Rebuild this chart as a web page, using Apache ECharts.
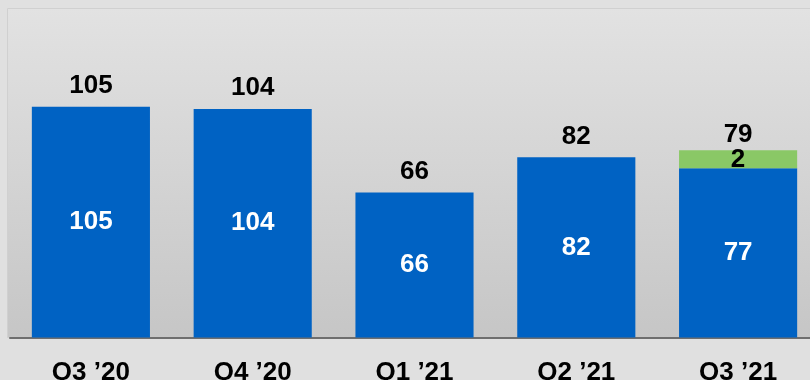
<!DOCTYPE html>
<html><head><meta charset="utf-8">
<script src="https://cdn.jsdelivr.net/npm/echarts@6/dist/echarts.min.js"></script>
<style>html,body{margin:0;padding:0;background:#e0e0e0;}#c{width:810px;height:380px;}</style>
</head><body><div id="c"></div>
<script>
const categories = ["Q3 \u201920", "Q4 \u201920", "Q1 \u201921", "Q2 \u201921", "Q3 \u201921"];
const baseValues = [105, 104, 66, 82, 77];
const addedValues = ['-', '-', '-', '-', 2];
const totals = [105, 104, 66, 82, 79];

const chart = echarts.init(document.getElementById('c'), null, {renderer: 'canvas'});
const numFont = {fontFamily: 'Liberation Sans, Arial, sans-serif', fontWeight: 'bold', fontSize: 26};
chart.setOption({
  backgroundColor: '#e0e0e0',
  animation: false,
  graphic: [{
    type: 'rect', z: -10, silent: true,
    shape: {x: 7.5, y: 8.5, width: 810, height: 329},
    style: {
      fill: new echarts.graphic.LinearGradient(0, 0, 0, 1, [
        {offset: 0, color: '#e2e2e2'}, {offset: 1, color: '#c6c6c6'}
      ]),
      stroke: '#d0d0d0', lineWidth: 1
    }
  }],
  grid: {left: 10, width: 809, top: 8, bottom: 42.5, containLabel: false, outerBoundsMode: 'none'},
  xAxis: {
    type: 'category', data: categories,
    axisLine: {lineStyle: {color: '#6e6e6e', width: 2}},
    axisTick: {show: false},
    axisLabel: {color: '#000', fontFamily: 'Liberation Sans, Arial, sans-serif', fontWeight: 'bold', fontSize: 26, margin: 22}
  },
  yAxis: {type: 'value', min: 0, max: 150, show: false, splitLine: {show: false}},
  series: [
    {
      name: 'base', type: 'bar', stack: 'a', data: baseValues, barWidth: '73%',
      itemStyle: {color: '#0062C3'},
      label: Object.assign({show: true, position: 'inside', color: '#fff'}, numFont)
    },
    {
      name: 'added', type: 'bar', stack: 'a', data: addedValues, barWidth: '73%', barMinHeight: 18,
      itemStyle: {color: '#8AC866'},
      label: Object.assign({show: true, position: 'inside', color: '#000'}, numFont)
    },
    {
      name: 'total', type: 'scatter', symbolSize: 0, z: 5,
      itemStyle: {color: '#000000', opacity: 1},
      data: totals.map((v, i) => i === totals.length - 1 ? {value: v, label: {distance: 16}} : v),
      label: Object.assign({show: true, position: 'top', distance: 8, color: '#000000', textBorderWidth: 0}, numFont)
    }
  ]
});
</script></body></html>
